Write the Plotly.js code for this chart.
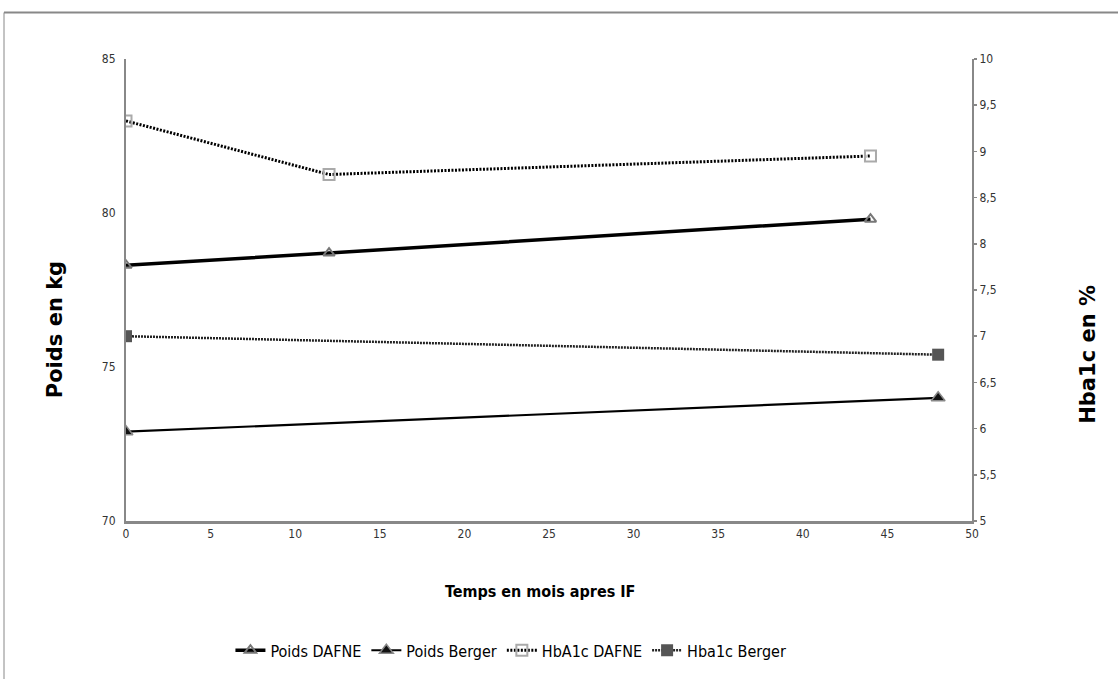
<!DOCTYPE html>
<html>
<head>
<meta charset="utf-8">
<script src="https://cdn.plot.ly/plotly-3.0.1.min.js"></script>
<style>
html,body{margin:0;padding:0;background:#fff;}
#chart{width:1118px;height:679px;}
</style>
</head>
<body>
<div id="chart"></div>
<script>
// Data
var poidsDafneX = [0, 12, 44];
var poidsDafneY = [78.3, 78.7, 79.8];
var poidsBergerX = [0, 48];
var poidsBergerY = [72.9, 74.0];
var hbDafneX = [0, 12, 44];
var hbDafneY = [9.33, 8.75, 8.95];
var hbBergerX = [0, 48];
var hbBergerY = [7.0, 6.8];

var seriesNames = ["Poids DAFNE", "Poids Berger", "HbA1c DAFNE", "Hba1c Berger"];
var xTitle = "Temps en mois apres IF";
var yTitle = "Poids en kg";
var y2Title = "Hba1c en %";

var narrow = "DejaVu Sans Condensed, Liberation Sans Narrow, Arial Narrow, sans-serif";
var wide = "DejaVu Sans, Verdana, sans-serif";

var traces = [
  {x: poidsDafneX, y: poidsDafneY, name: seriesNames[0], type: "scatter", mode: "lines+markers",
   line: {color: "#000", width: 3.5},
   marker: {symbol: "triangle-up-open", size: 10, color: "#777", line: {width: 2, color: "#777"}},
   yaxis: "y"},
  {x: poidsBergerX, y: poidsBergerY, name: seriesNames[1], type: "scatter", mode: "lines+markers",
   line: {color: "#000", width: 2.2},
   marker: {symbol: "triangle-up", size: 12, color: "#111", line: {width: 1.5, color: "#888"}},
   yaxis: "y"},
  {x: hbDafneX, y: hbDafneY, name: seriesNames[2], type: "scatter", mode: "lines+markers",
   line: {color: "#000", width: 3, dash: "2px,1.5px"},
   marker: {symbol: "square-open", size: 11, color: "#aaa", line: {width: 2, color: "#aaa"}},
   yaxis: "y2"},
  {x: hbBergerX, y: hbBergerY, name: seriesNames[3], type: "scatter", mode: "lines+markers",
   line: {color: "#222", width: 2.5, dash: "2px,1px"},
   marker: {symbol: "square", size: 12, color: "#555", line: {width: 0}},
   yaxis: "y2"}
];

var layout = {
  width: 1118, height: 679,
  paper_bgcolor: "#fff", plot_bgcolor: "#fff",
  separators: ", ",
  margin: {l: 126, r: 146, t: 59, b: 153, pad: 0},
  showlegend: true,
  legend: {orientation: "h", x: 0.455, xanchor: "center", y: -0.28, yanchor: "middle",
           font: {family: narrow, size: 16, color: "#000"}, itemwidth: 30, tracegroupgap: 0},
  xaxis: {range: [0, 50], dtick: 5, tick0: 0, showgrid: false, zeroline: false,
          showline: true, linecolor: "#888", linewidth: 2.5, ticks: "",
          tickfont: {family: narrow, size: 12, color: "#333"}},
  yaxis: {range: [70, 85], dtick: 5, tick0: 70, showgrid: false, zeroline: false,
          showline: true, linecolor: "#888", linewidth: 2, ticks: "", ticklabelstandoff: 6,
          tickfont: {family: narrow, size: 12, color: "#333"}},
  yaxis2: {range: [5, 10], dtick: 0.5, tick0: 5, overlaying: "y", side: "right",
          showgrid: false, zeroline: false, showline: true, linecolor: "#888", linewidth: 2,
          ticks: "outside", ticklen: 3, tickcolor: "#888", tickwidth: 1.5,
          tickfont: {family: narrow, size: 12, color: "#333"}},
  annotations: [
    {text: "<b>" + xTitle + "</b>", xref: "paper", yref: "paper", x: 0.489, y: -0.152,
     xanchor: "center", yanchor: "middle", showarrow: false,
     font: {family: narrow, size: 16, color: "#000"}},
    {text: "<b>" + yTitle + "</b>", xref: "paper", yref: "paper", x: -0.0839, y: 0.413,
     xanchor: "center", yanchor: "middle", showarrow: false, textangle: -90,
     font: {family: wide, size: 21, color: "#000"}},
    {text: "<b>" + y2Title + "</b>", xref: "paper", yref: "paper", x: 1.1371, y: 0.362,
     xanchor: "center", yanchor: "middle", showarrow: false, textangle: -90,
     font: {family: wide, size: 21, color: "#000"}}
  ],
  shapes: [
    {type: "line", xref: "paper", yref: "paper", x0: -0.1442, x1: 1.2, y0: 1.1006, y1: 1.1006,
     line: {color: "#888", width: 2}},
    {type: "line", xref: "paper", yref: "paper", x0: -0.1442, x1: -0.1442, y0: 1.1006, y1: -0.4,
     line: {color: "#888", width: 1}}
  ]
};

Plotly.newPlot("chart", traces, layout, {displayModeBar: false, staticPlot: true});
</script>
</body>
</html>
